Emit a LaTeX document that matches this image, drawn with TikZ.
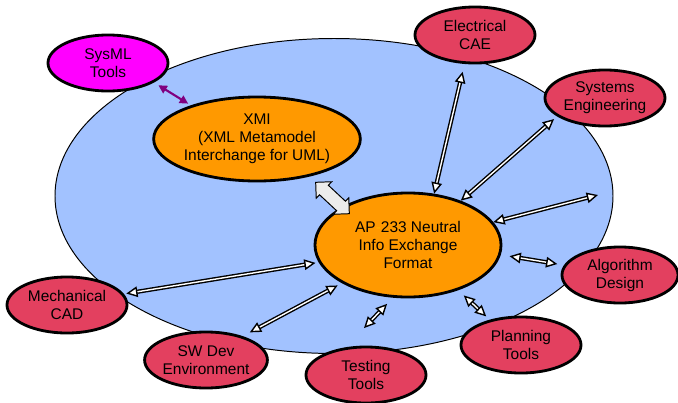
\documentclass[tikz,border=0pt]{standalone}
\usepackage{fontspec}
\setmainfont{Liberation Sans}
\usetikzlibrary{shapes.geometric, shapes.arrows, arrows.meta, calc}
\definecolor{domainfill}{HTML}{A2C2FF}
\definecolor{hubfill}{HTML}{FF9900}
\definecolor{toolfill}{HTML}{E3405F}
\definecolor{sysmlfill}{HTML}{FF00FF}
\definecolor{sysmlarrow}{HTML}{800080}
\definecolor{apdash}{HTML}{FFB000}
\begin{document}
\begin{tikzpicture}[
        x=0.025cm, y=-0.025cm,
        tool/.style={ellipse, draw=black, fill=toolfill, line width=2pt, minimum width=3cm, minimum height=1.4cm, inner sep=0pt, font=\fontsize{11}{12.8}\selectfont, align=center},
        sysml/.style={tool, fill=sysmlfill},
        hub/.style={ellipse, draw=black, fill=hubfill, line width=2pt, inner sep=0pt, font=\fontsize{11}{12.8}\selectfont, align=center},
        link/.style={{Triangle[open, fill=white, length=8pt, width=7.5pt]}-{Triangle[open, fill=white, length=8pt, width=7.5pt]}, draw=black, double=white, double distance=1pt, line width=1pt},
        xlink/.style={{Triangle[length=6pt, width=6pt]}-{Triangle[length=6pt, width=6pt]}, draw=sysmlarrow, line width=1.5pt}
    ]
    \useasboundingbox (0,0) rectangle (678,402);

    % Outer domain
    \draw[fill=domainfill, line width=0.7pt] (334,196) ellipse [x radius=279, y radius=157.5];

    % Central formats
    \node[hub, minimum width=4.65cm, minimum height=2.1cm] (xmi) at (257,139) {XMI\\(XML Metamodel\\Interchange for UML)};
    \node[hub, minimum width=4.65cm, minimum height=2.6cm] (ap) at (408,245) {AP\textcolor{apdash}{-}233 Neutral\\Info Exchange\\Format};

    % Tools
    \node[sysml] (sysml) at (108,63) {SysML\\Tools};
    \node[tool] (ecae) at (475,35) {Electrical\\CAE};
    \node[tool] (syseng) at (605,98) {Systems\\Engineering};
    \node[tool, minimum width=2.9cm] (algo) at (620,275) {Algorithm\\Design};
    \node[tool] (plan) at (521,345) {Planning\\Tools};
    \node[tool] (test) at (366,375) {Testing\\Tools};
    \node[tool] (swdev) at (206,360) {SW Dev\\Environment};
    \node[tool] (mcad) at (67,305) {Mechanical\\CAD};
    \coordinate (rim) at (598,195);

    % Exchange between XMI and AP 233
    \node[double arrow, draw=black, fill=gray!15, line width=0.7pt, rotate=-43, minimum height=1.15cm, inner xsep=0pt, inner ysep=0.15cm, double arrow head extend=0.12cm] (swap) at ($(xmi)!0.5!(ap)+(0,6)$) {};

    % Links
    \draw[xlink, shorten <=0.13cm, shorten >=0.08cm] (sysml.-23) -- (xmi.153);
    \draw[link, shorten <=0.2cm] (ecae.250) -- (ap.63);
    \draw[link, shorten <=0.1cm] (syseng.201) -- (ap.40);
    \draw[link] (ap.15) -- (rim);
    \draw[link, shorten <=0.22cm, shorten >=0.17cm] (ap.-6) -- (algo.170);
    \draw[link, shorten <=0.19cm, shorten >=0.12cm] (ap.-42) -- (plan.141);
    \draw[link, shorten <=0.21cm, shorten >=0.66cm] (ap.254) -- (test.126);
    \draw[link, shorten <=0.12cm, shorten >=0.2cm] (ap.210) -- (swdev.33);
    \draw[link, shorten <=0.08cm, shorten >=0.06cm] (ap.191) -- (mcad.11);

\end{tikzpicture}
\end{document}
